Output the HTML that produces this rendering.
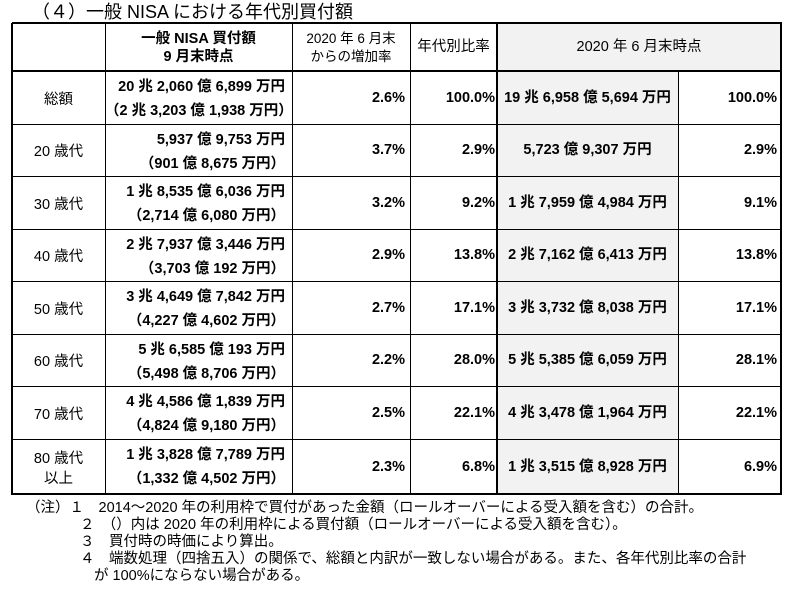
<!DOCTYPE html>
<html><head><meta charset="utf-8"><style>
body{margin:0;width:800px;height:595px;background:#fff;position:relative;overflow:hidden;font-family:"Liberation Sans Narrow","Liberation Sans","Noto Sans CJK JP",sans-serif;color:#000}
.a{position:absolute;white-space:nowrap;font-size:14.5px;line-height:16px}
.h{position:absolute;background:#000}
.g{position:absolute;background:#f2f2f2}
.r{text-align:right}.c{text-align:center}
.n{font-size:14.5px;line-height:17px}
</style></head><body>
<div class="a" style="left:32px;top:2px;font-size:18px;line-height:20px">（４）一般 NISA における年代別買付額</div>
<div id="t"></div>
<div class="a n" style="left:26px;top:500px">（注）１　2014～2020 年の利用枠で買付があった金額（ロールオーバーによる受入額を含む）の合計。</div>
<div class="a n" style="left:80px;top:517px">２　（）内は 2020 年の利用枠による買付額（ロールオーバーによる受入額を含む）。</div>
<div class="a n" style="left:80px;top:534px">３　買付時の時価により算出。</div>
<div class="a n" style="left:80px;top:551px">４　端数処理（四捨五入）の関係で、総額と内訳が一致しない場合がある。また、各年代別比率の合計</div>
<div class="a n" style="left:94px;top:568px">が 100%にならない場合がある。</div>
<script>
const labels=["総額","20 歳代","30 歳代","40 歳代","50 歳代","60 歳代","70 歳代","80 歳代<br>以上"];
const amt=["20 兆 2,060 億 6,899 万円","5,937 億 9,753 万円","1 兆 8,535 億 6,036 万円","2 兆 7,937 億 3,446 万円","3 兆 4,649 億 7,842 万円","5 兆 6,585 億 193 万円","4 兆 4,586 億 1,839 万円","1 兆 3,828 億 7,789 万円"];
const sub=["（2 兆 3,203 億 1,938 万円）","（901 億 8,675 万円）","（2,714 億 6,080 万円）","（3,703 億 192 万円）","（4,227 億 4,602 万円）","（5,498 億 8,706 万円）","（4,824 億 9,180 万円）","（1,332 億 4,502 万円）"];
const inc=["2.6%","3.7%","3.2%","2.9%","2.7%","2.2%","2.5%","2.3%"];
const ratio=["100.0%","2.9%","9.2%","13.8%","17.1%","28.0%","22.1%","6.8%"];
const prev=["19 兆 6,958 億 5,694 万円","5,723 億 9,307 万円","1 兆 7,959 億 4,984 万円","2 兆 7,162 億 6,413 万円","3 兆 3,732 億 8,038 万円","5 兆 5,385 億 6,059 万円","4 兆 3,478 億 1,964 万円","1 兆 3,515 億 8,928 万円"];
const prevRatio=["100.0%","2.9%","9.1%","13.8%","17.1%","28.1%","22.1%","6.9%"];
const t=document.getElementById('t');
const X=[12,105,292,410,497,678,781],Y=[23,71,124,176,229,281,334,386,439,494];
function box(cls,x,y,w,h,name,html,extra){const d=document.createElement('div');d.className=cls;d.style.cssText=`left:${x}px;top:${y}px;width:${w}px;height:${h}px;`+(extra||'');if(html!==undefined)d.innerHTML=html;


t.appendChild(d);return d;}
box('g',497,23,284,48,'header-2020-bg');
box('g',497,71,181,423,'col-2020-bg');
box('a c',105,30,187,36,'header-amount','一般 NISA 買付額<br>9 月末時点','line-height:18px;font-weight:bold');
box('a c',292,30,118,36,'header-increase','2020 年 6 月末<br>からの増加率','line-height:18px;font-size:13.5px');
box('a c',410,39,87,16,'header-ratio','年代別比率');
box('a c',497,39,284,16,'header-2020','2020 年 6 月末時点');
for(let i=0;i<labels.length;i++){const y=Y[i+1],h=Y[i+2]-y,m=y+h/2;
 const two=labels[i].includes('<br>');
 box('a c',12,two?m-18:m-8,93,two?36:16,'row-label-'+i,labels[i],'line-height:20px');
 box('a r',105,y+8,180,16,'amount-'+i,amt[i],'font-weight:bold');
 box('a r',105,y+32,180,16,'amount-2020-'+i,sub[i],'font-weight:bold');
 box('a r',292,m-8,113,16,'increase-'+i,inc[i],'font-weight:bold');
 box('a r',410,m-8,85,16,'ratio-'+i,ratio[i],'font-weight:bold');
 box('a c',497,m-8,181,16,'prev-amount-'+i,prev[i],'font-weight:bold');
 box('a r',678,m-8,99,16,'prev-ratio-'+i,prevRatio[i],'font-weight:bold');
}
for(let i=0;i<Y.length;i++){const th=(i==0||i==1||i==Y.length-1)?2:1;
 box('h',12,Y[i]-(th>1?1:0),770,th,'hline-'+i);}
for(let j=0;j<X.length;j++){const th=(j==0||j==X.length-1||j==4)?2:1;
 const y0=(j==5)?71:23;box('h',X[j]-(th>1?1:0),y0,th,Y[Y.length-1]-y0+1,'vline-'+j);}
</script>
</body></html>
